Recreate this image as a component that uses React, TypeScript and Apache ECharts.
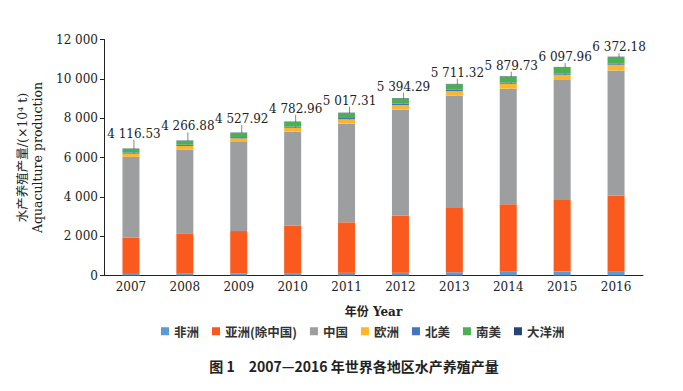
import React, { useEffect, useRef } from "react";
import * as echarts from "echarts";

const years = ["2007", "2008", "2009", "2010", "2011", "2012", "2013", "2014", "2015", "2016"];
const africa = [80, 90, 95, 120, 135, 145, 165, 190, 200, 220];
const asiaExChina = [1840, 2055, 2165, 2410, 2570, 2895, 3265, 3430, 3640, 3835];
const china = [4116.53, 4266.88, 4527.92, 4782.96, 5017.31, 5394.29, 5711.32, 5879.73, 6097.96, 6372.18];
const europe = [160, 175, 185, 200, 220, 235, 235, 250, 270, 290];
const northAmerica = [60, 62, 63, 64, 65, 65, 66, 66, 67, 67];
const southAmerica = [183, 198, 212, 232, 252, 271, 281, 300, 310, 320];
const oceania = [17, 17, 18, 18, 18, 19, 19, 20, 20, 20];

const seriesNames = ["非洲", "亚洲(除中国)", "中国", "欧洲", "北美", "南美", "大洋洲"];
const seriesData = [africa, asiaExChina, china, europe, northAmerica, southAmerica, oceania];
const colors = ["#5B9BD5", "#FA5A1E", "#9D9EA0", "#FDB52A", "#4472C4", "#4CAF50", "#264478"];

const fmtThousands = (v: number, decimals = 0) => {
  const s = v.toFixed(decimals);
  const [intPart, dec] = s.split(".");
  const withSp = intPart.replace(/\B(?=(\d{3})+(?!\d))/g, " ");
  return dec ? `${withSp}.${dec}` : withSp;
};

const SERIF = "'DejaVu Serif', 'Noto Sans CJK SC', serif";
const CJK = "'Noto Sans CJK SC', sans-serif";

export default function App() {
  const ref = useRef<HTMLDivElement>(null);
  useEffect(() => {
    document.body.style.margin = "0";
    if (!ref.current) return;
    const chart = echarts.init(ref.current, undefined, { renderer: "svg" });
    const series: any[] = seriesNames.map((name, i) => {
      const s: any = {
        name,
        type: "bar",
        stack: "total",
        barWidth: 17,
        data: seriesData[i],
        itemStyle: { color: colors[i] },
        emphasis: { disabled: true },
      };
      if (name === "中国") {
        s.label = {
          show: true,
          position: "top",
          distance: 4,
          formatter: (p: any) => fmtThousands(p.value, 2),
          fontFamily: SERIF,
          fontSize: 12,
          color: "#222",
        };
        s.labelLayout = { dy: -13, dx: 3 };
        s.labelLine = { show: true, lineStyle: { color: "#888", width: 1 } };
      }
      return s;
    });
    chart.setOption({
      animation: false,
      backgroundColor: "#fff",
      color: colors,
      grid: { left: 104, right: 40, top: 39.5, bottom: 115.5 },
      legend: {
        data: seriesNames,
        top: 320,
        left: 156,
        itemWidth: 8,
        itemHeight: 8,
        itemGap: 13,
        icon: "rect",
        textStyle: { fontFamily: CJK, fontSize: 12.5, color: "#333", fontWeight: "bold" },
      },
      xAxis: {
        type: "category",
        data: years,
        name: "年份 Year",
        nameLocation: "middle",
        nameGap: 30,
        nameTextStyle: { fontFamily: SERIF, fontSize: 12, color: "#222", fontWeight: "bold" },
        axisLine: { lineStyle: { color: "#222", width: 1 } },
        axisTick: { show: false },
        axisLabel: { fontFamily: SERIF, fontSize: 12, color: "#222", margin: 5 },
      },
      yAxis: {
        type: "value",
        min: 0,
        max: 12000,
        interval: 2000,
        name: "水产养殖产量/(×10⁴ t)\nAquaculture production",
        nameLocation: "middle",
        nameRotate: 90,
        nameGap: 52,
        nameTextStyle: { fontFamily: SERIF, fontSize: 12.5, color: "#222", lineHeight: 15 },
        axisLine: { show: true, lineStyle: { color: "#222", width: 1 } },
        axisTick: { show: true, inside: false, length: 4, lineStyle: { color: "#222" } },
        splitLine: { show: false },
        axisLabel: {
          fontFamily: SERIF,
          fontSize: 12,
          color: "#222",
          margin: 6,
          formatter: (v: number) => fmtThousands(v),
        },
      },
      graphic: [
        {
          type: "text",
          x: 354,
          y: 366,
          style: {
            text: "图 1　2007—2016 年世界各地区水产养殖产量",
            font: "bold 14px 'Noto Sans CJK SC', 'Liberation Serif', serif",
            fill: "#222",
            align: "center",
            verticalAlign: "middle",
          },
        },
      ],
      series,
    });
    return () => chart.dispose();
  }, []);
  return <div ref={ref} style={{ width: 683, height: 391 }} />;
}
